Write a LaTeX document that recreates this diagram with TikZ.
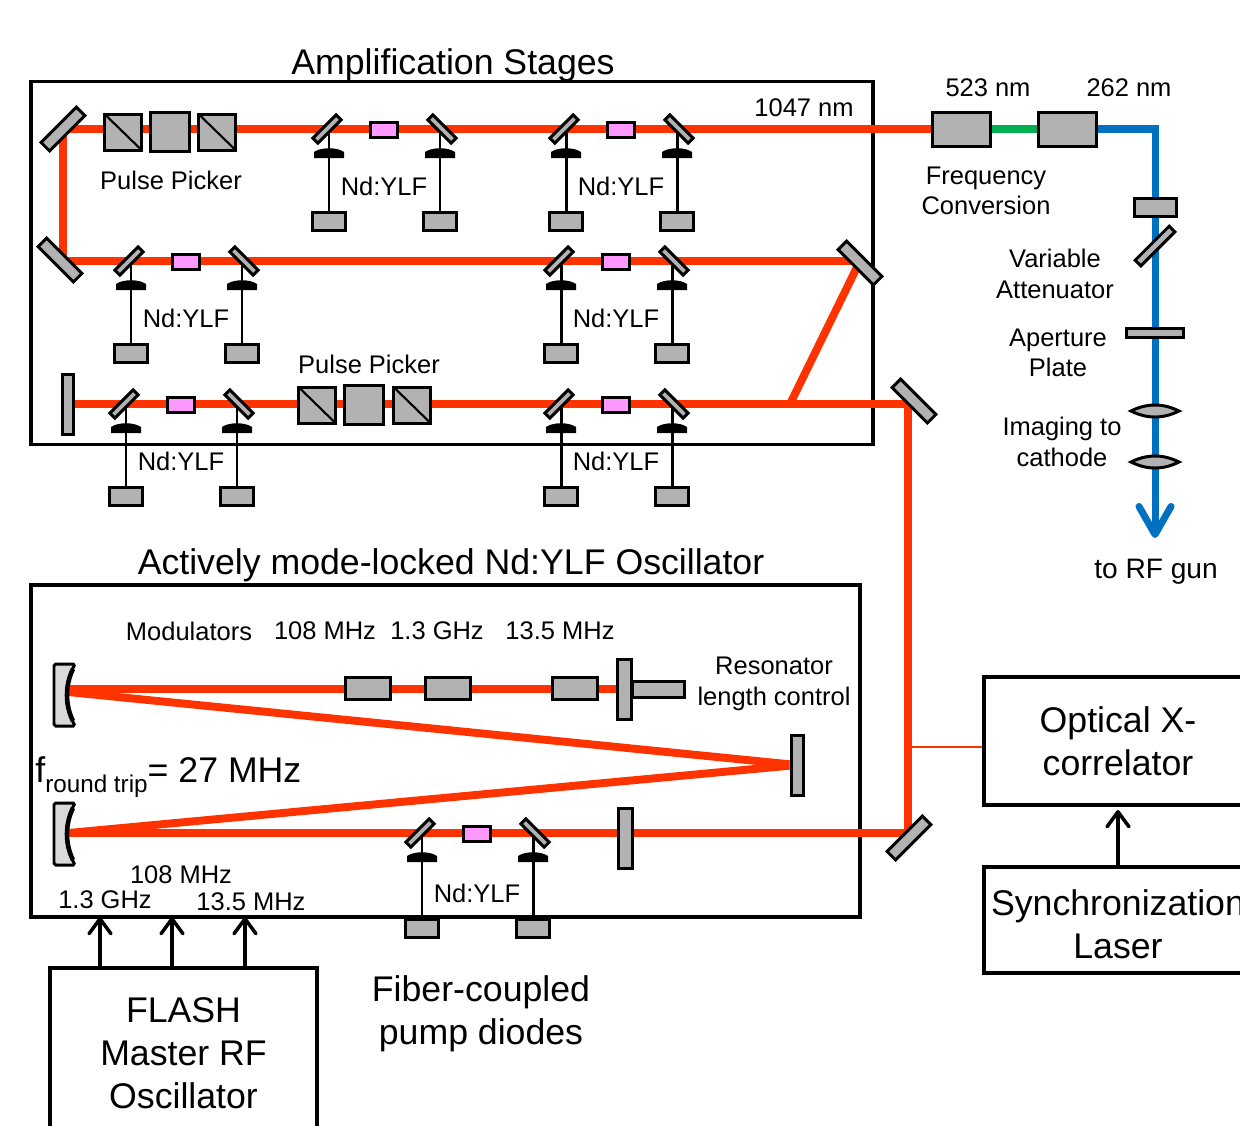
\documentclass[tikz,border=0pt]{standalone}
\usepackage{fontspec}
\setmainfont{Liberation Sans}
\usetikzlibrary{arrows.meta,backgrounds}
\definecolor{irred}{HTML}{FF3300}
\definecolor{uvblue}{HTML}{0070C0}
\definecolor{shgreen}{HTML}{00B050}
\definecolor{partgray}{HTML}{B2B2B2}
\definecolor{rodpink}{HTML}{FF99FF}
\definecolor{curvegray}{HTML}{D9D9D9}

% one amplifier stage: name, left pump x, beam y, pump drop
\newcommand{\ampstage}[4]{%
  \node[stagemirror, rotate=45] (#1ml) at (#2-2,#3) {};
  \node[stagemirror, rotate=-45] (#1mr) at (#2+113,#3) {};
  \node[crystal] (#1rod) at (#2+55,#3+1) {};
  \node[pumpbox] (#1pl) at (#2,#3+#4) {};
  \node[pumpbox] (#1pr) at (#2+111,#3+#4) {};
  \node[midtext] (#1lab) at (#2+55,#3+#4-35) {Nd:YLF};
  \begin{pgfonlayer}{background}
    \draw[pumpline] (#2,#3) -- (#1pl);
    \draw[pumpline] (#2+111,#3) -- (#1pr);
  \end{pgfonlayer}
  \fill (#2-15,#3+29) -- (#2+15,#3+29) -- (#2+15,#3+23) .. controls (#2+8,#3+18) and (#2-8,#3+18) .. (#2-15,#3+23) -- cycle;
  \fill (#2+96,#3+29) -- (#2+126,#3+29) -- (#2+126,#3+23) .. controls (#2+119,#3+18) and (#2+103,#3+18) .. (#2+96,#3+23) -- cycle;
}
% thin lens on the blue line
\newcommand{\thinlens}[2]{%
  \draw[part] (#1-24,#2) .. controls (#1-8,#2-8) and (#1+8,#2-8) .. (#1+24,#2) .. controls (#1+8,#2+8) and (#1-8,#2+8) .. (#1-24,#2) -- cycle;
}
% curved cavity mirror
\newcommand{\curvedmirror}[2]{%
  \draw[part, fill=curvegray, rounded corners=1pt] (#1-11,#2-31) -- (#1+10,#2-31) .. controls (#1-1,#2-10) and (#1-1,#2+10) .. (#1+10,#2+31) -- (#1-11,#2+31) -- cycle;
  \draw[line width=2.6pt] (#1+8,#2-26) .. controls (#1,#2-10) and (#1,#2+10) .. (#1+8,#2+26);
}

\begin{document}
\begin{tikzpicture}[
  x=0.2mm, y=-0.2mm,
  >={Straight Barb[round,length=3mm,width=4.4mm]},
  bigtext/.style={font=\fontsize{20.3}{24.6}\selectfont, align=center, inner sep=0pt},
  midtext/.style={font=\fontsize{14.5}{17.4}\selectfont, align=center, inner sep=0pt},
  part/.style={draw, line width=1.7pt, fill=partgray},
  cube/.style={part, rectangle, inner sep=0pt, minimum width=0.74cm, minimum height=0.72cm},
  splitcube/.style={cube, path picture={\draw[line width=1.2pt] (path picture bounding box.north west) -- (path picture bounding box.south east);}},
  block/.style={part, rectangle, inner sep=0pt, minimum width=0.9cm, minimum height=0.44cm},
  pumpbox/.style={part, rectangle, inner sep=0pt, minimum width=0.66cm, minimum height=0.36cm},
  crystal/.style={part, fill=rodpink, rectangle, inner sep=0pt, minimum width=0.54cm, minimum height=0.3cm},
  stagemirror/.style={part, rectangle, inner sep=0pt, minimum width=0.66cm, minimum height=0.14cm},
  bigmirror/.style={part, rectangle, inner sep=0pt, minimum width=1cm, minimum height=0.24cm},
  plate/.style={part, rectangle, inner sep=0pt, minimum width=0.24cm, minimum height=1.2cm},
  frame/.style={draw, line width=1.9pt, rectangle, inner sep=0pt},
  irbeam/.style={irred, line width=4.5pt},
  pumpline/.style={line width=1.7pt},
  rfarr/.style={->, line width=2pt}
]
\useasboundingbox (0,0) rectangle (1240,1125);

% amplification stages
\node[bigtext] (amptitle) at (453,65) {Amplification Stages};
\node[midtext] (irlab) at (804,108) {1047 nm};
\coordinate (ampcentre) at (452,263);
\node[bigmirror, rotate=45] (mirtop) at (63,129) {};
\node[bigmirror, rotate=-45] (mirleft) at (60,260) {};
\node[bigmirror, rotate=-45] (mirback) at (860,263) {};
\node[bigmirror, rotate=-45] (mirout) at (914,401) {};
\node[plate, minimum width=0.22cm] (endmir) at (68,404) {};
\coordinate (leftcorner) at (63,261);
\coordinate (branch) at (790,404);
\coordinate (turntop) at (908,404);
\coordinate (turnlow) at (908,833);
\coordinate (xtap) at (908,747);

\node[splitcube] (pp1a) at (123,132) {};
\node[cube, minimum width=0.78cm, minimum height=0.78cm] (pp1b) at (170,132) {};
\node[splitcube] (pp1c) at (217,132) {};
\node[midtext] (pp1lab) at (171,180) {Pulse Picker};
\node[splitcube] (pp2a) at (317,405) {};
\node[cube, minimum width=0.78cm, minimum height=0.78cm] (pp2b) at (364,405) {};
\node[splitcube] (pp2c) at (412,405) {};
\node[midtext] (pp2lab) at (369,364) {Pulse Picker};

\ampstage{sa}{329}{129}{92}
\ampstage{sb}{566}{129}{92}
\ampstage{sc}{131}{261}{92}
\ampstage{sd}{561}{261}{92}
\ampstage{se}{126}{404}{92}
\ampstage{sf}{561}{404}{92}

% frequency conversion and beamline to the gun
\node[block, minimum width=1.16cm, minimum height=0.68cm] (shg) at (961,129) {};
\node[block, minimum width=1.16cm, minimum height=0.68cm] (fhg) at (1067,129) {};
\node[midtext] (greenlab) at (988,88) {523 nm};
\node[midtext] (uvlab) at (1129,88) {262 nm};
\node[midtext] (freqlab) at (986,191) {Frequency\\Conversion};
\node[block, minimum width=0.84cm, minimum height=0.36cm] (attbox) at (1155,207) {};
\node[part, rectangle, inner sep=0pt, rotate=45, minimum width=0.96cm, minimum height=0.16cm] (attmir) at (1155,246) {};
\node[part, rectangle, inner sep=0pt, minimum width=1.14cm, minimum height=0.18cm] (aperture) at (1155,333) {};
\node[midtext] (attlab) at (1055,274) {Variable\\Attenuator};
\node[midtext] (aplab) at (1058,353) {Aperture\\Plate};
\node[midtext] (imglab) at (1062,442) {Imaging to\\cathode};
\node[midtext, font=\fontsize{16}{18}\selectfont] (gunlab) at (1156,572) {to RF gun};
\coordinate (uvbend) at (1155,129);
\coordinate (gun) at (1155,538);
\begin{pgfonlayer}{background}
  \draw[uvblue, line width=4pt, line join=miter, -{Straight Barb[round,length=5.6mm,width=6.4mm]}] (fhg.east) -- (uvbend) -- (gun);
  \draw[shgreen, line width=4pt] (shg.east) -- (fhg.west);
\end{pgfonlayer}
\thinlens{1155}{411}
\thinlens{1155}{462}

% oscillator
\node[bigtext] (osctitle) at (451,565) {Actively mode-locked Nd:YLF Oscillator};
\node[midtext] (modlab) at (189,631) {Modulators};
\node[midtext] (moda) at (325,631) {108 MHz};
\node[midtext] (modb) at (437,631) {1.3 GHz};
\node[midtext] (modc) at (560,631) {13.5 MHz};
\node[block] (modblocka) at (368,688) {};
\node[block] (modblockb) at (448,688) {};
\node[block] (modblockc) at (575,688) {};
\node[part, rectangle, inner sep=0pt, minimum width=1.04cm, minimum height=0.32cm] (rod) at (658,689) {};
\node[plate, minimum width=0.28cm] (cavend) at (624,689) {};
\node[plate] (foldmir) at (797,765) {};
\node[plate, minimum width=0.28cm] (lowplate) at (625,838) {};
\node[bigmirror, rotate=45] (mirlow) at (909,838) {};
\node[midtext] (reslab) at (774,684) {Resonator\\length control};
\node[bigtext, anchor=west] (froundlab) at (35,777) {f\raisebox{-0.28em}{\fontsize{13.8}{17}\selectfont round trip}= 27 MHz};
\curvedmirror{65}{695}
\curvedmirror{65}{834}
\coordinate (cavtop) at (68,689);
\coordinate (cavmid) at (68,692);
\coordinate (cavlow) at (68,833);
\ampstage{sg}{422}{833}{95}
\node[midtext] (rfa) at (181,875) {108 MHz};
\node[midtext] (rfb) at (105,900) {1.3 GHz};
\node[midtext] (rfc) at (251,902) {13.5 MHz};
\node[bigtext] (fiberlab) at (481,1014) {Fiber-coupled\\pump diodes};

% electronics
\node[frame, bigtext, draw, minimum width=5.34cm, minimum height=3.4cm] (flash) at (183.5,1053) {FLASH\\Master RF\\Oscillator};
\node[frame, bigtext, draw, minimum width=5.36cm, minimum height=2.56cm] (xcorr) at (1118,741) {Optical X-\\correlator};
\node[frame, minimum width=5.36cm, minimum height=2.12cm] (sync) at (1118,920) {};
\node[bigtext] (synclab) at (1118,924) {Synchronization\\Laser};
\coordinate (rfina) at (100,917);
\coordinate (rfinb) at (172,917);
\coordinate (rfinc) at (245,917);
\coordinate (xcin) at (1118,810);
\draw[rfarr] (rfina |- flash.north) -- (rfina);
\draw[rfarr] (rfinb |- flash.north) -- (rfinb);
\draw[rfarr] (rfinc |- flash.north) -- (rfinc);
\draw[rfarr] (sync.north) -- (xcin);

\begin{pgfonlayer}{background}
  \node[frame, minimum width=16.84cm, minimum height=7.26cm] (ampframe) at (ampcentre) {};
  \node[frame, minimum width=16.58cm, minimum height=6.64cm] (oscframe) at (445.5,751) {};
  \draw[irbeam] (mirtop.center) -- (shg.west);
  \draw[irbeam] (mirtop.center) -- (leftcorner);
  \draw[irbeam] (leftcorner) -- (leftcorner -| mirback.center);
  \draw[irbeam] (leftcorner -| mirback.center) -- (branch);
  \draw[irbeam] (endmir) -- (endmir -| mirout.center);
  \draw[irbeam] (turntop) -- (turnlow);
  \draw[irbeam] (cavtop) -- (cavtop -| cavend.center);
  \draw[irbeam] (cavmid) -- (foldmir);
  \draw[irbeam] (cavlow) -- (foldmir);
  \draw[irbeam] (cavlow) -- (cavlow -| mirlow.center);
  \draw[irred, line width=1.5pt] (xtap) -- (xtap -| xcorr.west);
\end{pgfonlayer}
\end{tikzpicture}
\end{document}
